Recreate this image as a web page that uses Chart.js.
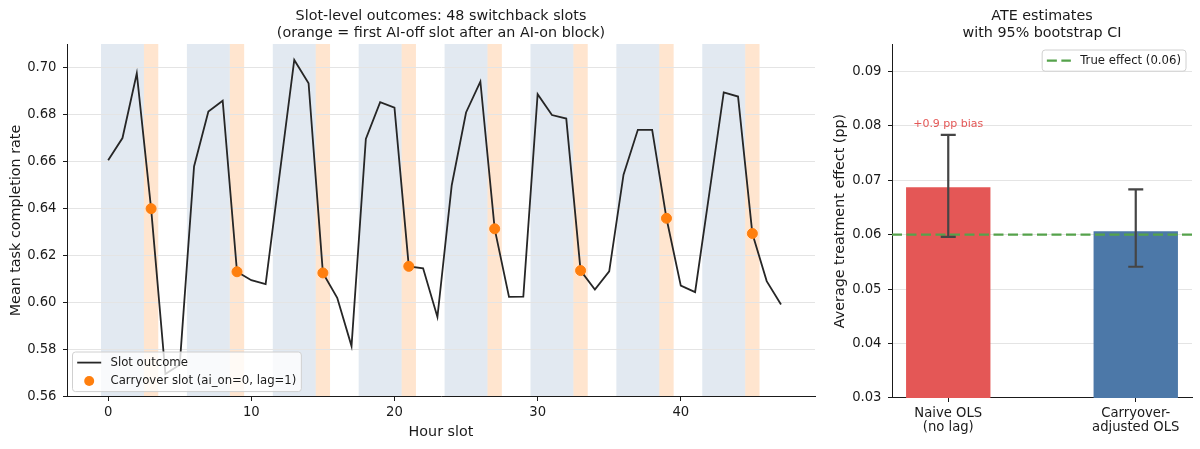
<!DOCTYPE html>
<html>
<head>
<meta charset="utf-8">
<title>Switchback slots and ATE estimates</title>
<script src="https://cdn.jsdelivr.net/npm/chart.js@4.4.1/dist/chart.umd.min.js"></script>
<style>
  html, body { margin: 0; padding: 0; background: #fff; overflow: hidden; }
  #wrap { position: relative; width: 1200px; height: 449px; }
  #slotChart { position: absolute; left: 0; top: 0; }
  #ateChart { position: absolute; left: 830px; top: 0; }
</style>
</head>
<body>
<div id="wrap">
  <canvas id="slotChart" width="830" height="449"></canvas>
  <canvas id="ateChart" width="370" height="449"></canvas>
</div>
<script>
// --- data ---
const slots = [0, 1, 2, 3, 4, 5, 6, 7, 8, 9, 10, 11, 12, 13, 14, 15, 16, 17, 18, 19, 20, 21, 22, 23,
               24, 25, 26, 27, 28, 29, 30, 31, 32, 33, 34, 35, 36, 37, 38, 39, 40, 41, 42, 43, 44, 45, 46, 47];
const outcome = [0.6606, 0.6701, 0.6977, 0.6400, 0.5695, 0.5735, 0.6580, 0.6814, 0.6860, 0.6131, 0.6095, 0.6078,
                 0.6557, 0.7034, 0.6935, 0.6126, 0.6020, 0.5814, 0.6697, 0.6854, 0.6831, 0.6154, 0.6146, 0.5938,
                 0.6500, 0.6810, 0.6942, 0.6314, 0.6024, 0.6025, 0.6888, 0.6799, 0.6784, 0.6136, 0.6055, 0.6133,
                 0.6545, 0.6736, 0.6736, 0.6359, 0.6072, 0.6044, 0.6468, 0.6896, 0.6878, 0.6294, 0.6091, 0.5991];
const aiOnBlocks = [[-0.5, 2.5], [5.5, 8.5], [11.5, 14.5], [17.5, 20.5], [23.5, 26.5], [29.5, 32.5], [35.5, 38.5], [41.5, 44.5]];
const carryoverSlots = [3, 9, 15, 21, 27, 33, 39, 45];
const slotYTicks = [0.56, 0.58, 0.60, 0.62, 0.64, 0.66, 0.68, 0.70];
const slotXTicks = [0, 10, 20, 30, 40];

const estimatorLabels = [['Naive OLS', '(no lag)'], ['Carryover-', 'adjusted OLS']];
const ateEstimates = [0.0687, 0.0606];
const ciLower = [0.0596, 0.0541];
const ciUpper = [0.0783, 0.0683];
const trueEffect = 0.06;
const biasLabel = '+0.9 pp bias';
const ateYTicks = [0.03, 0.04, 0.05, 0.06, 0.07, 0.08, 0.09];

const FONT = "'DejaVu Sans', sans-serif";
const INK = '#1a1a1a';
const TRUE_DASH = [10, 4.5];
Chart.defaults.font.family = FONT;
Chart.defaults.color = INK;

// shaded AI-on blocks and carryover slots behind the grid
const blockShading = {
  id: 'blockShading',
  beforeDraw(chart, args, opts) {
    const { ctx, chartArea: ca } = chart;
    const x = chart.scales.x;
    ctx.save();
    ctx.fillStyle = opts.onColor;
    opts.blocks.forEach(([a, b]) => {
      const x0 = x.getPixelForValue(a), x1 = x.getPixelForValue(b);
      ctx.fillRect(x0, ca.top, x1 - x0, ca.bottom - ca.top);
    });
    ctx.fillStyle = opts.carryColor;
    opts.carry.forEach(s => {
      const x0 = x.getPixelForValue(s - 0.5), x1 = x.getPixelForValue(s + 0.5);
      ctx.fillRect(x0, ca.top, x1 - x0, ca.bottom - ca.top);
    });
    ctx.restore();
  }
};

// matplotlib-style legend box inside the plot area
const insetLegend = {
  id: 'insetLegend',
  afterDraw(chart, args, opts) {
    const { ctx, chartArea: ca } = chart;
    const rowH = 18.4;
    ctx.save();
    ctx.font = opts.fontSize + 'px ' + FONT;
    const textW = Math.max(...opts.items.map(it => ctx.measureText(it.text).width));
    const w = 38 + textW + 5;
    const h = opts.items.length * rowH + 2.8;
    let left, top;
    if (opts.corner === 'bottom-left') {
      left = ca.left + 5.5;
      top = ca.bottom - 5.4 - h;
    } else {
      left = ca.right - 6 - w;
      top = ca.top + 6;
    }
    ctx.beginPath();
    ctx.roundRect(left, top, w, h, 3);
    ctx.fillStyle = 'rgba(255,255,255,0.8)';
    ctx.fill();
    ctx.strokeStyle = '#d0d0d0';
    ctx.lineWidth = 1;
    ctx.stroke();
    opts.items.forEach((it, i) => {
      const cy = top + 1.4 + rowH * (i + 0.5);
      ctx.save();
      if (it.kind === 'point') {
        ctx.fillStyle = it.color;
        ctx.beginPath();
        ctx.arc(left + 16.7, cy, 5, 0, Math.PI * 2);
        ctx.fill();
      } else {
        ctx.strokeStyle = it.color;
        ctx.lineWidth = it.width;
        ctx.setLineDash(it.dash || []);
        ctx.beginPath();
        ctx.moveTo(left + 4.7, cy);
        ctx.lineTo(left + 28.7, cy);
        ctx.stroke();
      }
      ctx.restore();
      ctx.fillStyle = INK;
      ctx.textBaseline = 'middle';
      ctx.textAlign = 'left';
      ctx.fillText(it.text, left + 38, cy);
    });
    ctx.restore();
  }
};

// reference line, bootstrap CI whiskers and bias note on the ATE panel
const ateOverlay = {
  id: 'ateOverlay',
  afterDatasetsDraw(chart) {
    const { ctx, chartArea: ca } = chart;
    const xs = chart.scales.x, ys = chart.scales.y;
    ctx.save();
    const yt = ys.getPixelForValue(trueEffect);
    ctx.strokeStyle = '#55a24b';
    ctx.lineWidth = 2.4;
    ctx.setLineDash(TRUE_DASH);
    ctx.beginPath();
    ctx.moveTo(ca.left, yt);
    ctx.lineTo(ca.right, yt);
    ctx.stroke();
    ctx.setLineDash([]);

    ctx.strokeStyle = '#454545';
    ctx.lineWidth = 2.2;
    ateEstimates.forEach((_, i) => {
      const x = xs.getPixelForValue(i);
      const y0 = ys.getPixelForValue(ciLower[i]);
      const y1 = ys.getPixelForValue(ciUpper[i]);
      ctx.beginPath();
      ctx.moveTo(x, y0); ctx.lineTo(x, y1);
      ctx.moveTo(x - 7.5, y0); ctx.lineTo(x + 7.5, y0);
      ctx.moveTo(x - 7.5, y1); ctx.lineTo(x + 7.5, y1);
      ctx.stroke();
    });

    ctx.fillStyle = '#e45756';
    ctx.font = '11px ' + FONT;
    ctx.textAlign = 'center';
    ctx.textBaseline = 'middle';
    ctx.fillText(biasLabel, xs.getPixelForValue(0), ys.getPixelForValue(ciUpper[0]) - 10.5);
    ctx.restore();
  }
};

const tickFont = { size: 13.2, lineHeight: 1.05 };
const titleFont = { size: 14.3, weight: 'normal', lineHeight: 1.154 };
const axisTitleFont = { size: 14.3, lineHeight: 1.2 };

new Chart(document.getElementById('slotChart'), {
  type: 'line',
  data: {
    datasets: [
      {
        type: 'scatter',
        label: 'Carryover slot (ai_on=0, lag=1)',
        data: carryoverSlots.map(s => ({ x: s, y: outcome[slots.indexOf(s)] })),
        backgroundColor: '#ff7f0e',
        borderColor: '#ff7f0e',
        pointRadius: 5,
        pointHoverRadius: 5,
        order: 1
      },
      {
        label: 'Slot outcome',
        data: slots.map((s, i) => ({ x: s, y: outcome[i] })),
        borderColor: '#262626',
        borderWidth: 1.8,
        pointRadius: 0,
        tension: 0,
        fill: false,
        order: 2
      }
    ]
  },
  options: {
    responsive: false,
    animation: false,
    layout: { padding: { left: 0, right: 15, top: 0, bottom: 0 } },
    plugins: {
      legend: { display: false },
      tooltip: { enabled: false },
      title: {
        display: true,
        fullSize: false,
        text: ['Slot-level outcomes: 48 switchback slots', '(orange = first AI-off slot after an AI-on block)'],
        font: titleFont,
        color: INK,
        padding: { top: 8.25, bottom: 2.75 }
      },
      blockShading: {
        blocks: aiOnBlocks,
        carry: carryoverSlots,
        onColor: 'rgba(76,120,168,0.16)',
        carryColor: 'rgba(255,127,14,0.2)'
      },
      insetLegend: {
        corner: 'bottom-left',
        fontSize: 11.7,
        items: [
          { kind: 'line', text: 'Slot outcome', color: '#262626', width: 1.8 },
          { kind: 'point', text: 'Carryover slot (ai_on=0, lag=1)', color: '#ff7f0e' }
        ]
      }
    },
    scales: {
      x: {
        type: 'linear',
        min: -2.875,
        max: 49.375,
        afterBuildTicks: s => { s.ticks = slotXTicks.map(v => ({ value: v })); },
        afterFit: s => { s.height = 52; },
        grid: { drawOnChartArea: false, tickLength: 4, tickColor: INK, tickWidth: 1 },
        border: { color: INK, width: 1 },
        ticks: { font: tickFont, color: INK, padding: 5, maxRotation: 0 },
        title: { display: true, text: 'Hour slot', font: axisTitleFont, color: INK, padding: { top: 0, bottom: 8.4 } }
      },
      y: {
        min: 0.5597,
        max: 0.7102,
        afterBuildTicks: s => { s.ticks = slotYTicks.map(v => ({ value: v })); },
        afterFit: s => { s.width = 67; },
        grid: { color: '#e4e4e4', lineWidth: 1, tickLength: 4, tickColor: INK, tickWidth: 1 },
        border: { color: INK, width: 1 },
        ticks: { font: tickFont, color: INK, padding: 6.5, callback: v => v.toFixed(2) },
        title: { display: true, text: 'Mean task completion rate', font: axisTitleFont, color: INK, padding: { top: 7.4, bottom: 0 } }
      }
    }
  },
  plugins: [blockShading, insetLegend]
});

new Chart(document.getElementById('ateChart'), {
  type: 'bar',
  data: {
    datasets: [{
      label: 'ATE',
      data: ateEstimates.map((v, i) => ({ x: i, y: v })),
      backgroundColor: ['#e45756', '#4c78a8'],
      borderWidth: 0,
      barPercentage: 0.45,
      categoryPercentage: 1
    }]
  },
  options: {
    responsive: false,
    animation: false,
    layout: { padding: { left: 0, right: 8, top: 0, bottom: 0 } },
    plugins: {
      legend: { display: false },
      tooltip: { enabled: false },
      title: {
        display: true,
        fullSize: false,
        text: ['ATE estimates', 'with 95% bootstrap CI'],
        font: titleFont,
        color: INK,
        padding: { top: 8.25, bottom: 2.75 }
      },
      insetLegend: {
        corner: 'top-right',
        fontSize: 11.7,
        items: [
          { kind: 'line', text: 'True effect (' + trueEffect.toFixed(2) + ')', color: '#55a24b', width: 2.4, dash: TRUE_DASH }
        ]
      }
    },
    scales: {
      x: {
        type: 'linear',
        min: -0.3,
        max: 1.3,
        offset: false,
        afterBuildTicks: s => { s.ticks = estimatorLabels.map((_, i) => ({ value: i })); },
        afterFit: s => { s.height = 51; },
        grid: { offset: false, drawOnChartArea: false, tickLength: 4, tickColor: INK, tickWidth: 1 },
        border: { color: INK, width: 1 },
        ticks: { font: tickFont, color: INK, padding: 5, maxRotation: 0, callback: v => estimatorLabels[v] }
      },
      y: {
        min: 0.03,
        max: 0.095,
        afterBuildTicks: s => { s.ticks = ateYTicks.map(v => ({ value: v })); },
        afterFit: s => { s.width = 62; },
        grid: { color: '#e4e4e4', lineWidth: 1, tickLength: 4, tickColor: INK, tickWidth: 1 },
        border: { color: INK, width: 1 },
        ticks: { font: tickFont, color: INK, padding: 6.5, callback: v => v.toFixed(2) },
        title: { display: true, text: 'Average treatment effect (pp)', font: axisTitleFont, color: INK, padding: { top: 1.4, bottom: 0 } }
      }
    }
  },
  plugins: [insetLegend, ateOverlay]
});
</script>
</body>
</html>
